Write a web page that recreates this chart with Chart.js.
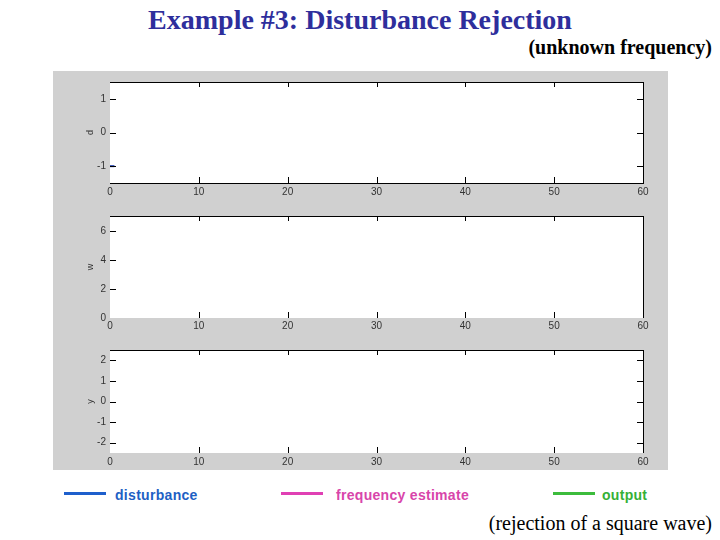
<!DOCTYPE html>
<html><head><meta charset="utf-8">
<script src="https://cdn.jsdelivr.net/npm/chart.js@4.4.0/dist/chart.umd.min.js"></script>
<style>
html,body{margin:0;padding:0;background:#fff;width:720px;height:540px;overflow:hidden;position:relative}
#panel{position:absolute;left:53px;top:71px;width:615px;height:399px;background:#d0d0d0}
canvas{position:absolute;left:53px}
.t{position:absolute;white-space:nowrap}
#title{left:0;width:720px;top:4px;text-align:center;font:bold 28px "Liberation Serif","Times New Roman",serif;color:#2e2e9c}
#sub{right:8px;top:36px;font:bold 20px "Liberation Serif","Times New Roman",serif;color:#000}
#foot{right:8px;top:512px;font:20px "Liberation Serif","Times New Roman",serif;color:#000}
.ln{position:absolute;height:3px;top:492px;width:42px}
.lg{position:absolute;top:487px;font:bold 14px "Liberation Sans",Arial,sans-serif;letter-spacing:0.3px}
</style>
</head><body>
<div class="t" id="title">Example #3: Disturbance Rejection</div>
<div class="t" id="sub">(unknown frequency)</div>
<div id="panel"></div>
<canvas id="c1" width="615" height="134" style="top:71px"></canvas>
<canvas id="c2" width="615" height="133" style="top:205px"></canvas>
<canvas id="c3" width="615" height="132" style="top:338px"></canvas>
<div class="ln" style="left:64px;background:#1e5fcc"></div>
<div class="lg" style="left:115px;color:#1e5fc4">disturbance</div>
<div class="ln" style="left:281px;background:#e040b4"></div>
<div class="lg" style="left:336px;color:#d845aa">frequency estimate</div>
<div class="ln" style="left:553px;background:#3cbc3c"></div>
<div class="lg" style="left:602px;color:#36b036">output</div>
<div class="t" id="foot">(rejection of a square wave)</div>
<script>
// ---- data ----
const xTicks = [0, 10, 20, 30, 40, 50, 60];
const dTicks = [-1, 0, 1];
const wTicks = [0, 2, 4, 6];
const yTicks = [-2, -1, 0, 1, 2];
const disturbanceT = [0, 0.5];
const disturbance = [-1, -1];
const frequencyT = [];
const frequencyEstimate = [];
const outputT = [];
const output = [];

const framePlugin = {
  id: 'frame',
  beforeDraw(chart) {
    const {ctx, chartArea: a} = chart;
    ctx.save();
    ctx.fillStyle = '#fff';
    ctx.fillRect(a.left, a.top, a.width, a.height);
    ctx.restore();
  },
  afterDraw(chart, args, o) {
    const {ctx, chartArea: a, scales} = chart;
    const L = Math.round(a.left), R = Math.round(a.right), T = Math.round(a.top), B = Math.round(a.bottom);
    ctx.save();
    ctx.strokeStyle = '#000';
    ctx.lineWidth = 1;
    ctx.beginPath();
    ctx.moveTo(L, T + 0.5); ctx.lineTo(R + 1, T + 0.5);
    ctx.moveTo(R + 0.5, T); ctx.lineTo(R + 0.5, B);
    if (o.bottomLine) { ctx.moveTo(L, B + 0.5); ctx.lineTo(R + 1, B + 0.5); }
    scales.x.ticks.forEach(t => {
      const px = Math.round(scales.x.getPixelForValue(t.value)) + 0.5;
      if (t.value === 0 || t.value === 60) return;
      ctx.moveTo(px, T); ctx.lineTo(px, T + 5);
      ctx.moveTo(px, B); ctx.lineTo(px, B - 6);
    });
    scales.y.ticks.forEach(t => {
      const py = Math.round(scales.y.getPixelForValue(t.value)) + 0.5;
      if (py <= T + 1 || py >= B - 1) return;
      ctx.moveTo(L, py); ctx.lineTo(L + 6, py);
      if (o.rightTicks) { ctx.moveTo(R, py); ctx.lineTo(R - 6, py); }
    });
    ctx.stroke();
    ctx.restore();
  }
};

function pts(xs, ys) { return xs.map((x, i) => ({x: x, y: ys[i]})); }

const panels = [
  {id: 'c1', padTop: 11, xh: 22, lp: 3, min: -1.5, max: 1.5, ticks: dTicks, title: 'd', bottomLine: true, rightTicks: true,
   ds: [{data: pts(disturbanceT, disturbance), borderColor: '#1e3fb0'}]},
  {id: 'c2', padTop: 11, xh: 20, lp: 2, min: 0, max: 7.03, ticks: wTicks, title: 'w', bottomLine: false, rightTicks: false,
   ds: [{data: pts(frequencyT, frequencyEstimate), borderColor: '#e040b4'}]},
  {id: 'c3', padTop: 12, xh: 17, lp: 3, min: -2.5, max: 2.5, ticks: yTicks, title: 'y', bottomLine: false, rightTicks: true,
   ds: [{data: pts(outputT, output), borderColor: '#3cbc3c'}]}
];

panels.forEach(p => {
  new Chart(document.getElementById(p.id), {
    type: 'line',
    data: {datasets: p.ds.map(d => Object.assign({borderWidth: 2, pointRadius: 0, fill: false, tension: 0}, d))},
    options: {
      responsive: false,
      animation: false,
      layout: {padding: {left: 28, top: p.padTop, right: 25, bottom: 0}},
      plugins: {legend: {display: false}, tooltip: {enabled: false},
        frame: {bottomLine: p.bottomLine, rightTicks: p.rightTicks}},
      scales: {
        x: {
          type: 'linear', min: 0, max: 60,
          afterBuildTicks: s => { s.ticks = xTicks.map(v => ({value: v})); },
          afterFit: s => { s.height = p.xh; },
          grid: {display: false, drawTicks: false},
          border: {display: false},
          ticks: {padding: p.lp, maxRotation: 0, autoSkip: false, color: '#333',
            font: {family: 'Liberation Sans, Arial, sans-serif', size: 10}}
        },
        y: {
          type: 'linear', min: p.min, max: p.max,
          afterBuildTicks: s => { s.ticks = p.ticks.map(v => ({value: v})); },
          afterFit: s => { s.width = 29; },
          grid: {display: false, drawTicks: false},
          border: {display: false},
          title: {display: true, text: p.title, color: '#333', font: {family: 'Liberation Sans, Arial, sans-serif', size: 9}},
          ticks: {padding: 4, autoSkip: false, color: '#333',
            font: {family: 'Liberation Sans, Arial, sans-serif', size: 10}}
        }
      }
    },
    plugins: [framePlugin]
  });
});
</script>
</body></html>
